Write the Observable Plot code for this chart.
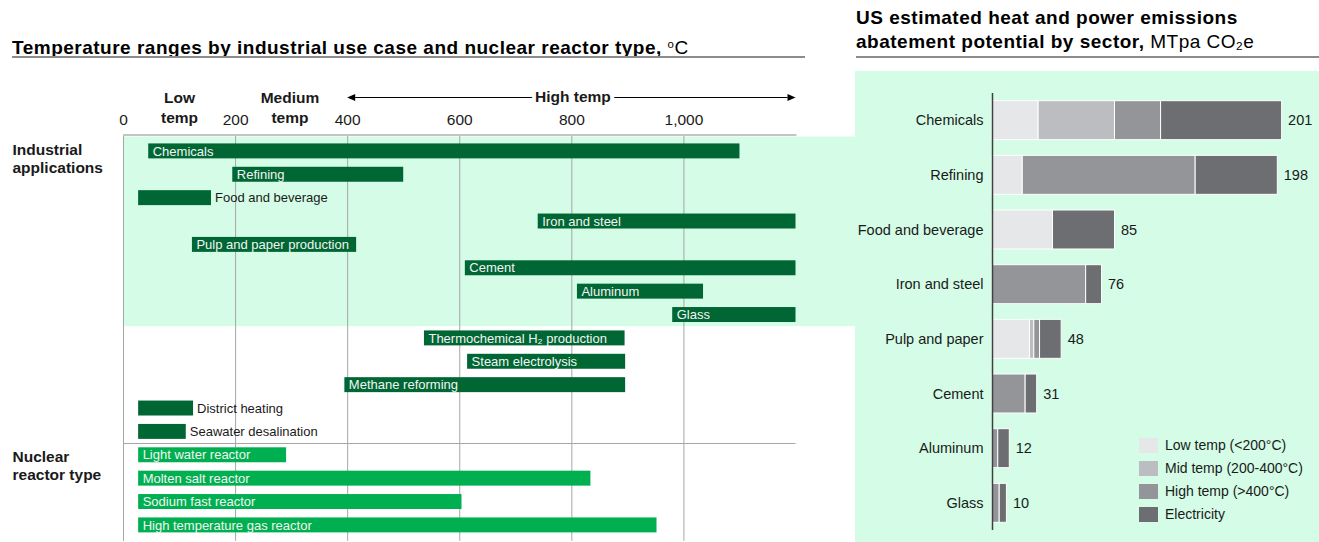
<!DOCTYPE html>
<html>
<head>
<meta charset="utf-8">
<script src="https://cdn.jsdelivr.net/npm/d3@7"></script>
<script src="https://cdn.jsdelivr.net/npm/@observablehq/plot@0.6"></script>
<style>
  body { margin: 0; background: #fff; font-family: "Liberation Sans", Arial, sans-serif; }
  #root { position: relative; width: 1319px; height: 542px; overflow: hidden; }
  .abs { position: absolute; }
  .title { font-weight: bold; font-size: 19px; letter-spacing: 0.5px; color: #000; white-space: nowrap; }
  .rule { height: 2px; background: #8c8c8c; }
  .legend-item { position: absolute; font-size: 14px; color: #1a1a1a; white-space: nowrap; }
  .legend-item span.sw { position: absolute; left: 0; top: 0; width: 19px; height: 15px; }
  .legend-item span.tx { position: absolute; left: 26px; top: -1px; line-height: 17px; }
</style>
</head>
<body>
<div id="root"></div>
<script>
// ---------- Data: left chart (temperature ranges, °C) ----------
const useCases = ["Chemicals", "Refining", "Food and beverage", "Iron and steel", "Pulp and paper production", "Cement", "Aluminum", "Glass", "Thermochemical H\u2082 production", "Steam electrolysis", "Methane reforming", "District heating", "Seawater desalination"];
const useMin = [45, 195, 27, 740, 123, 610, 810, 980, 537, 614, 395, 27, 27];
const useMax = [1100, 500, 157, 1200, 416, 1200, 1035, 1200, 895, 896, 896, 125, 112];
const reactors = ["Light water reactor", "Molten salt reactor", "Sodium fast reactor", "High temperature gas reactor"];
const reactorMin = [27, 27, 27, 27];
const reactorMax = [291, 834, 604, 952];
const tempTicks = [0, 200, 400, 600, 800, 1000];
const bandLabels = ["Low\ntemp", "Medium\ntemp"];
const bandCenters = [100, 297];
const highTempLabel = "High temp";
const highTempCenter = 802;
const highTempFrom = 400;
const highTempTo = 1200;
const tempMax = 1200;
const groupLabels = ["Industrial\napplications", "Nuclear\nreactor type"];

// ---------- Data: right chart (MTpa CO2e) ----------
const sectors = ["Chemicals", "Refining", "Food and beverage", "Iron and steel", "Pulp and paper", "Cement", "Aluminum", "Glass"];
const lowTemp = [32, 21, 42, 0, 26, 0, 0, 0];
const midTemp = [53, 0, 0, 0, 3, 0, 0, 0];
const highTemp = [32, 120, 0, 65, 4, 23, 4, 5];
const electricity = [84, 57, 43, 11, 15, 8, 8, 5];
const totals = [201, 198, 85, 76, 48, 31, 12, 10];
const seriesNames = ["Low temp (<200°C)", "Mid temp (200-400°C)", "High temp (>400°C)", "Electricity"];
const seriesColors = ["#e6e7e8", "#bcbdc0", "#939598", "#6d6e71"];

// ---------- Styles ----------
const FONT = "'Liberation Sans', Arial, sans-serif";
const MINT = "#d4fce6";
const DARK_GREEN = "#006633";
const NUCLEAR_GREEN = "#00b050";
const LEFT_PAD = 0.36;
const RIGHT_PAD = 0.287;

const root = document.getElementById("root");

function addDiv(cls, style, html) {
  const d = document.createElement("div");
  d.className = cls;
  Object.assign(d.style, style);
  if (html != null) d.innerHTML = html;
  root.appendChild(d);
  return d;
}

// Titles
addDiv("abs title", {left: "12px", top: "32px", lineHeight: "24px"},
  'Temperature ranges by industrial use case and nuclear reactor type, <span style="font-weight:normal"><sup style="font-size:0.6em;vertical-align:0.55em">o</sup>C</span>');
addDiv("abs rule", {left: "12px", top: "56px", width: "793px"});
addDiv("abs title", {left: "856px", top: "6px", lineHeight: "24px"},
  'US estimated heat and power emissions<br>abatement potential by sector, <span style="font-weight:normal">MTpa CO<sub style="font-size:0.62em;vertical-align:-0.15em">2</sub>e</span>');
addDiv("abs rule", {left: "856px", top: "56px", width: "463px"});

// Right panel background
addDiv("abs", {left: "855px", top: "71px", width: "464px", height: "471px", background: MINT});

// ---------- Left chart ----------
const leftRows = [
  ...useCases.map((name, i) => ({name, min: useMin[i], max: useMax[i], group: "use"})),
  ...reactors.map((name, i) => ({name, min: reactorMin[i], max: reactorMax[i], group: "reactor"}))
];
const rowNames = leftRows.map(d => d.name);
const isInside = d => (d.max - d.min) >= 200;

function bandGeom(y, names, pad) {
  const step = y(names[1]) - y(names[0]);
  const bw = step * (1 - pad);
  return {step, bw, gap: (step - bw) / 2};
}

const leftPlot = Plot.plot({
  width: 855,
  height: 472,
  marginLeft: 123,
  marginRight: 59.5,
  marginTop: 65,
  marginBottom: 1.2,
  x: {domain: [0, tempMax], axis: null},
  y: {domain: rowNames, padding: LEFT_PAD, axis: null, round: false},
  style: {fontFamily: FONT, fontSize: "13px", background: "transparent", overflow: "visible", color: "#000"},
  marks: [
    // mint band behind industrial applications
    (index, scales, values, dim) => {
      const g = d3.create("svg:g");
      const {x, y} = scales;
      const {gap, bw} = bandGeom(y, rowNames, LEFT_PAD);
      const top = dim.marginTop;
      const bandBottom = y(useCases[7]) + bw + gap;
      g.append("rect")
        .attr("x", x(0)).attr("y", top + 1.5)
        .attr("width", dim.width - x(0)).attr("height", bandBottom - top - 1.5)
        .attr("fill", MINT);
      return g.node();
    },
    Plot.gridX(tempTicks, {stroke: "#a6a6a6", strokeOpacity: 1, strokeWidth: 1}),
    // top axis line, separator, double arrow
    (index, scales, values, dim) => {
      const g = d3.create("svg:g");
      const {x, y} = scales;
      const {gap, bw} = bandGeom(y, rowNames, LEFT_PAD);
      const top = dim.marginTop;
      g.append("line").attr("x1", x(0)).attr("x2", x(tempMax) + 1).attr("y1", top).attr("y2", top)
        .attr("stroke", "#c4c4c4").attr("stroke-width", 2);
      const sepY = Math.round(y(useCases[useCases.length - 1]) + bw + gap) + 0.5;
      g.append("line").attr("x1", x(0)).attr("x2", x(tempMax)).attr("y1", sepY).attr("y2", sepY)
        .attr("stroke", "#a6a6a6").attr("stroke-width", 1);
      const ay = top - 38 + 0.5;
      const x1 = x(highTempFrom), x2 = x(highTempTo);
      const head = 8, hh = 3.5;
      g.append("line").attr("x1", x1 + head).attr("x2", x2 - head).attr("y1", ay).attr("y2", ay)
        .attr("stroke", "#000").attr("stroke-width", 1);
      g.append("path").attr("d", `M${x1},${ay}L${x1 + head},${ay - hh}L${x1 + head},${ay + hh}Z`).attr("fill", "#000");
      g.append("path").attr("d", `M${x2},${ay}L${x2 - head},${ay - hh}L${x2 - head},${ay + hh}Z`).attr("fill", "#000");
      return g.node();
    },
    Plot.barX(leftRows, {
      x1: "min", x2: "max", y: "name",
      fill: d => d.group === "use" ? DARK_GREEN : NUCLEAR_GREEN
    }),
    Plot.text(leftRows.filter(isInside), {
      x: "min", y: "name", text: "name", dx: 4, textAnchor: "start", fill: "#f4f4f4", fontSize: 13
    }),
    Plot.text(leftRows.filter(d => !isInside(d)), {
      x: "max", y: "name", text: "name", dx: 3.5, textAnchor: "start", fill: "#1a1a1a", fontSize: 13
    }),
    // tick labels
    Plot.text(tempTicks, {
      x: d => d, frameAnchor: "top", lineAnchor: "middle", dy: -15, text: d => d3.format(",")(d),
      fontSize: 15.5, fill: "#1a1a1a"
    }),
    // band headers
    Plot.text(bandLabels, {
      x: (d, i) => bandCenters[i], frameAnchor: "top", lineAnchor: "middle", dy: -28.5, text: d => d,
      fontSize: 15.5, fontWeight: "bold", lineHeight: 1.29, fill: "#1a1a1a"
    }),
    Plot.text([highTempLabel], {
      x: () => highTempCenter, frameAnchor: "top", lineAnchor: "middle", dy: -38, text: d => d,
      fontSize: 15.5, fontWeight: "bold", fill: "#1a1a1a", stroke: "white", strokeWidth: 8
    }),
    // group labels
    Plot.text([groupLabels[0]], {
      x: () => 0, y: () => useCases[0], text: d => d,
      dx: -111, dy: -9, textAnchor: "start", fontSize: 15.5, fontWeight: "bold", lineHeight: 1.16,
      lineAnchor: "top", fill: "#1a1a1a"
    }),
    Plot.text([groupLabels[1]], {
      x: () => 0, y: () => reactors[0], text: d => d,
      dx: -111, dy: -6, textAnchor: "start", fontSize: 15.5, fontWeight: "bold", lineHeight: 1.16,
      lineAnchor: "top", fill: "#1a1a1a"
    })
  ]
});
leftPlot.style.position = "absolute";
leftPlot.style.left = "0px";
leftPlot.style.top = "70px";
root.appendChild(leftPlot);

// ---------- Right chart ----------
const seriesValues = [lowTemp, midTemp, highTemp, electricity];
const stacked = [];
sectors.forEach((sector, i) => {
  seriesNames.forEach((type, k) => {
    const v = seriesValues[k][i];
    if (v > 0) stacked.push({sector, type, value: v});
  });
});
const totalRows = sectors.map((sector, i) => ({sector, total: totals[i]}));

const rightPlot = Plot.plot({
  width: 464,
  height: 471,
  marginLeft: 137,
  marginRight: 10,
  marginTop: 14,
  marginBottom: 4,
  x: {domain: [0, 220], axis: null},
  y: {domain: sectors, padding: RIGHT_PAD, label: null, round: false},
  color: {domain: seriesNames, range: seriesColors},
  style: {fontFamily: FONT, fontSize: "14.5px", background: "transparent", overflow: "visible", color: "#1a1a1a"},
  marks: [
    Plot.barX(stacked, Plot.stackX({x: "value", y: "sector", fill: "type", stroke: "white", strokeWidth: 1})),
    Plot.ruleX([0], {stroke: "#404040", strokeWidth: 1.5, insetTop: 8, insetBottom: 8}),
    Plot.axisY({tickSize: 0, tickPadding: 9, fontSize: 14.5, label: null}),
    Plot.text(totalRows, {x: "total", y: "sector", text: "total", dx: 6, textAnchor: "start", fontSize: 14.5, fill: "#1a1a1a"})
  ]
});
rightPlot.style.position = "absolute";
rightPlot.style.left = "855px";
rightPlot.style.top = "71px";
root.appendChild(rightPlot);

// Legend (HTML)
seriesNames.forEach((name, k) => {
  const item = document.createElement("div");
  item.className = "legend-item";
  item.style.left = "1139px";
  item.style.top = (438 + k * 23) + "px";
  item.innerHTML = `<span class="sw" style="background:${seriesColors[k]}"></span><span class="tx">${name}</span>`;
  root.appendChild(item);
});
</script>
</body>
</html>
